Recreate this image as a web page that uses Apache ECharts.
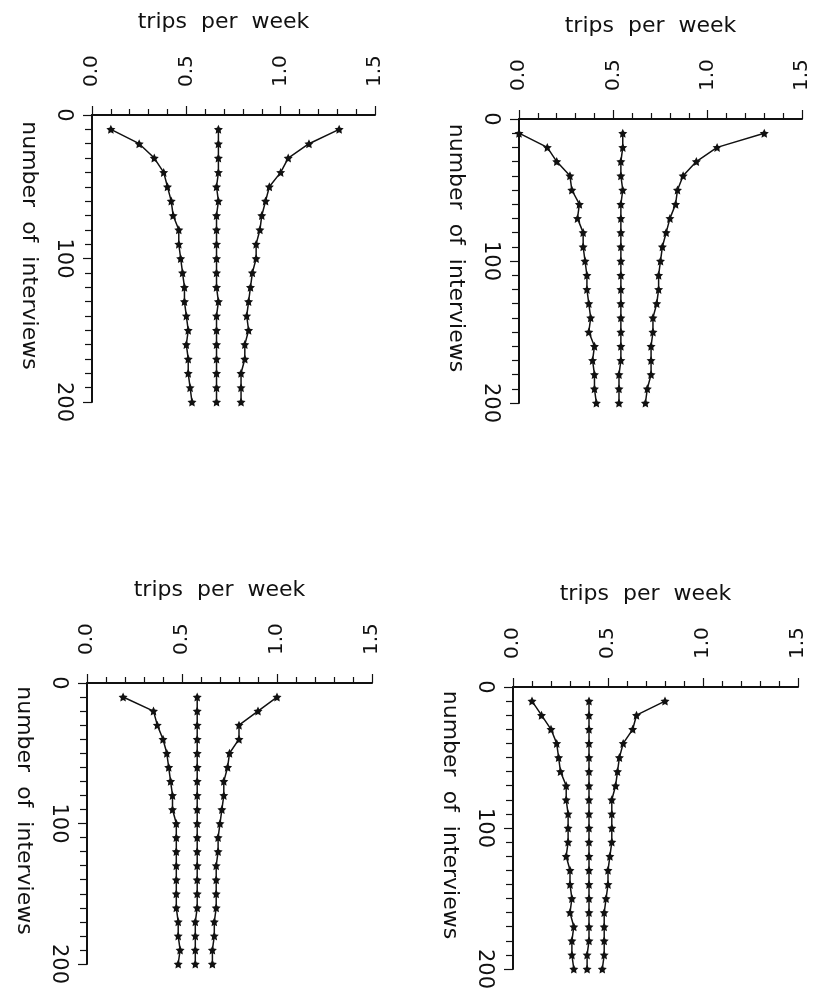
<!DOCTYPE html>
<html>
<head>
<meta charset="utf-8">
<script src="https://cdn.jsdelivr.net/npm/echarts@6/dist/echarts.min.js"></script>
<style>
  html, body { margin: 0; padding: 0; background: #fff; }
  #chart { width: 820px; height: 997px; }
</style>
</head>
<body>
<div id="chart"></div>
<script>
// number of interviews (vertical axis), one point every 10
const interviews = [10, 20, 30, 40, 50, 60, 70, 80, 90, 100, 110, 120, 130, 140, 150, 160, 170, 180, 190, 200]
const tripTicks = [0, 0.5, 1.0, 1.5]
const interviewTicks = [0, 100, 200]

// top left panel
const tlLow = [0.10, 0.25, 0.33, 0.38, 0.40, 0.42, 0.43, 0.46, 0.46, 0.47, 0.48, 0.49, 0.49, 0.50, 0.51, 0.50, 0.51, 0.51, 0.52, 0.53]
const tlMid = [0.67, 0.67, 0.67, 0.67, 0.66, 0.67, 0.66, 0.66, 0.66, 0.66, 0.66, 0.66, 0.67, 0.66, 0.66, 0.66, 0.66, 0.66, 0.66, 0.66]
const tlHigh = [1.31, 1.15, 1.04, 1.00, 0.94, 0.92, 0.90, 0.89, 0.87, 0.87, 0.85, 0.84, 0.83, 0.82, 0.83, 0.81, 0.81, 0.79, 0.79, 0.79]

// top right panel
const trLow = [0.00, 0.15, 0.20, 0.27, 0.28, 0.32, 0.31, 0.34, 0.34, 0.35, 0.36, 0.36, 0.37, 0.38, 0.37, 0.40, 0.39, 0.40, 0.40, 0.41]
const trMid = [0.55, 0.55, 0.54, 0.54, 0.55, 0.54, 0.54, 0.54, 0.54, 0.54, 0.54, 0.54, 0.54, 0.54, 0.54, 0.54, 0.54, 0.53, 0.53, 0.53]
const trHigh = [1.30, 1.05, 0.94, 0.87, 0.84, 0.83, 0.80, 0.78, 0.76, 0.75, 0.74, 0.74, 0.73, 0.71, 0.71, 0.70, 0.70, 0.70, 0.68, 0.67]

// bottom left panel
const blLow = [0.19, 0.35, 0.37, 0.40, 0.42, 0.43, 0.44, 0.45, 0.45, 0.47, 0.47, 0.47, 0.47, 0.47, 0.47, 0.47, 0.48, 0.48, 0.49, 0.48]
const blMid = [0.58, 0.58, 0.58, 0.58, 0.58, 0.58, 0.58, 0.58, 0.58, 0.58, 0.58, 0.58, 0.58, 0.58, 0.58, 0.58, 0.57, 0.57, 0.57, 0.57]
const blHigh = [1.00, 0.90, 0.80, 0.80, 0.75, 0.74, 0.72, 0.72, 0.71, 0.70, 0.69, 0.69, 0.68, 0.68, 0.68, 0.68, 0.67, 0.67, 0.66, 0.66]

// bottom right panel
const brLow = [0.10, 0.15, 0.20, 0.23, 0.24, 0.25, 0.28, 0.28, 0.29, 0.29, 0.29, 0.28, 0.30, 0.30, 0.31, 0.30, 0.32, 0.31, 0.31, 0.32]
const brMid = [0.40, 0.40, 0.40, 0.40, 0.40, 0.40, 0.40, 0.40, 0.40, 0.40, 0.40, 0.40, 0.40, 0.40, 0.40, 0.40, 0.40, 0.40, 0.39, 0.39]
const brHigh = [0.80, 0.65, 0.63, 0.58, 0.56, 0.55, 0.54, 0.52, 0.52, 0.52, 0.52, 0.51, 0.50, 0.50, 0.49, 0.48, 0.48, 0.48, 0.48, 0.47]

const panels = [
  { box: { left: 92, top: 115, width: 283, height: 287 }, lines: [tlLow, tlMid, tlHigh] },
  { box: { left: 519, top: 119, width: 283, height: 284 }, lines: [trLow, trMid, trHigh] },
  { box: { left: 87, top: 683, width: 285, height: 281 }, lines: [blLow, blMid, blHigh] },
  { box: { left: 513, top: 687, width: 285, height: 282 }, lines: [brLow, brMid, brHigh] }
]

const font = 'DejaVu Sans'
const ink = '#111'
const star = 'path://M0,-10 L2.9,-4 9.5,-3.1 4.7,1.5 5.9,8.1 0,5 -5.9,8.1 -4.7,1.5 -9.5,-3.1 -2.9,-4Z'

const grid = []
const xAxis = []
const yAxis = []
const series = []

panels.forEach((p, i) => {
  grid.push(p.box)
  xAxis.push({
    gridIndex: i,
    type: 'value',
    position: 'top',
    min: tripTicks[0],
    max: tripTicks[tripTicks.length - 1],
    interval: 0.5,
    name: 'trips  per  week',
    nameLocation: 'middle',
    nameGap: 82,
    nameTextStyle: { fontFamily: font, fontSize: 22, color: ink, padding: [0, 20, 0, 0] },
    axisLine: { onZero: false, lineStyle: { color: ink, width: 2 } },
    axisTick: { length: 9, lineStyle: { color: ink, width: 1.2 } },
    minorTick: { show: true, splitNumber: 5, length: 6, lineStyle: { color: ink, width: 1.2 } },
    axisLabel: {
      rotate: -90,
      margin: 28,
      fontFamily: font,
      fontSize: 20,
      color: ink,
      formatter: v => v.toFixed(1)
    },
    splitLine: { show: false }
  })
  yAxis.push({
    gridIndex: i,
    type: 'value',
    position: 'left',
    inverse: true,
    min: interviewTicks[0],
    max: interviewTicks[interviewTicks.length - 1],
    interval: 100,
    name: 'number  of  interviews',
    nameLocation: 'middle',
    nameRotate: -90,
    nameGap: 52,
    // pull the name a little towards the top, as in the scan
    nameTextStyle: { fontFamily: font, fontSize: 22, color: ink, padding: [0, 26, 0, 0] },
    axisLine: { onZero: false, lineStyle: { color: ink, width: 2 } },
    axisTick: { length: 9, lineStyle: { color: ink, width: 1.2 } },
    minorTick: { show: true, splitNumber: 10, length: 7, lineStyle: { color: ink, width: 1.2 } },
    axisLabel: {
      rotate: -90,
      margin: 18,
      fontFamily: font,
      fontSize: 21,
      color: ink
    },
    splitLine: { show: false }
  })
  p.lines.forEach(vals => {
    series.push({
      type: 'line',
      xAxisIndex: i,
      yAxisIndex: i,
      data: vals.map((v, k) => [v, interviews[k]]),
      symbol: star,
      symbolSize: 9,
      itemStyle: { color: ink },
      lineStyle: { color: ink, width: 1.5 },
      animation: false
    })
  })
})

const chart = echarts.init(document.getElementById('chart'))
chart.setOption({
  backgroundColor: '#fff',
  animation: false,
  grid,
  xAxis,
  yAxis,
  series
})
</script>
</body>
</html>
